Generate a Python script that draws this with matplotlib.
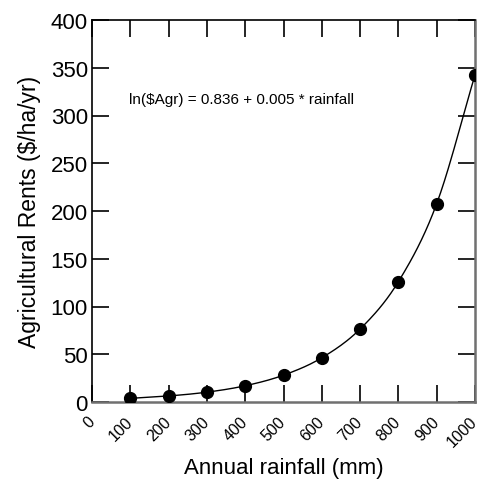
import numpy as np
import matplotlib
matplotlib.use("Agg")
import matplotlib.pyplot as plt

plt.rcParams['font.family'] = ['Liberation Sans', 'DejaVu Sans']

rainfall = [100, 200, 300, 400, 500, 600, 700, 800, 900, 1000]
rents = [3.8, 6.3, 10.3, 17.0, 28.1, 46.3, 76.4, 126.0, 207.7, 342.5]
x_ticks = [0, 100, 200, 300, 400, 500, 600, 700, 800, 900, 1000]
y_ticks = [0, 50, 100, 150, 200, 250, 300, 350, 400]
equation = "ln($Agr) = 0.836 + 0.005 * rainfall"


def catmull_rom(xs, ys, n=20):
    xs = np.asarray(xs, float)
    ys = np.asarray(ys, float)
    px = np.concatenate([[2 * xs[0] - xs[1]], xs, [2 * xs[-1] - xs[-2]]])
    py = np.concatenate([[2 * ys[0] - ys[1]], ys, [2 * ys[-1] - ys[-2]]])
    out_x, out_y = [], []
    t = np.linspace(0, 1, n, endpoint=False)
    for i in range(1, len(px) - 2):
        for p, out in ((px, out_x), (py, out_y)):
            p0, p1, p2, p3 = p[i - 1], p[i], p[i + 1], p[i + 2]
            out.extend(0.5 * ((2 * p1) + (-p0 + p2) * t
                              + (2 * p0 - 5 * p1 + 4 * p2 - p3) * t ** 2
                              + (-p0 + 3 * p1 - 3 * p2 + p3) * t ** 3))
    out_x.append(xs[-1])
    out_y.append(ys[-1])
    return np.array(out_x), np.array(out_y)


fig = plt.figure(figsize=(4.82, 4.81), dpi=100)
ax = fig.add_axes([92 / 482, 1 - 403 / 481, 383 / 482, 382 / 481])

cx, cy = catmull_rom(rainfall, rents)
ax.plot(cx, cy, color='black', lw=1.0, zorder=2)
ax.plot(rainfall, rents, 'o', color='black', ms=8.5, zorder=3)

ax.set_xlim(0, 1000)
ax.set_ylim(0, 400)
ax.set_xticks(x_ticks)
ax.set_xticklabels([str(v) for v in x_ticks], rotation=45, ha='right',
                   va='center', rotation_mode='anchor', fontsize=11.5)
ax.set_yticks(y_ticks)
ax.set_yticklabels([str(v) for v in y_ticks], fontsize=16)
ax.tick_params(direction='in', length=12, width=1.2, top=True, right=True,
               pad=3)
ax.tick_params(axis='x', pad=12)

for side in ('left', 'top'):
    ax.spines[side].set_color('black')
    ax.spines[side].set_linewidth(1.2)
for side in ('right', 'bottom'):
    ax.spines[side].set_color('#707070')
    ax.spines[side].set_linewidth(1.8)

ax.text(97, 317, equation, fontsize=11, va='center', ha='left')

ax.set_xlabel('Annual rainfall (mm)', fontsize=16, labelpad=6)
ax.set_ylabel('Agricultural Rents ($/ha/yr)', fontsize=16.5, labelpad=7)

fig.savefig('out.png', dpi=100)
